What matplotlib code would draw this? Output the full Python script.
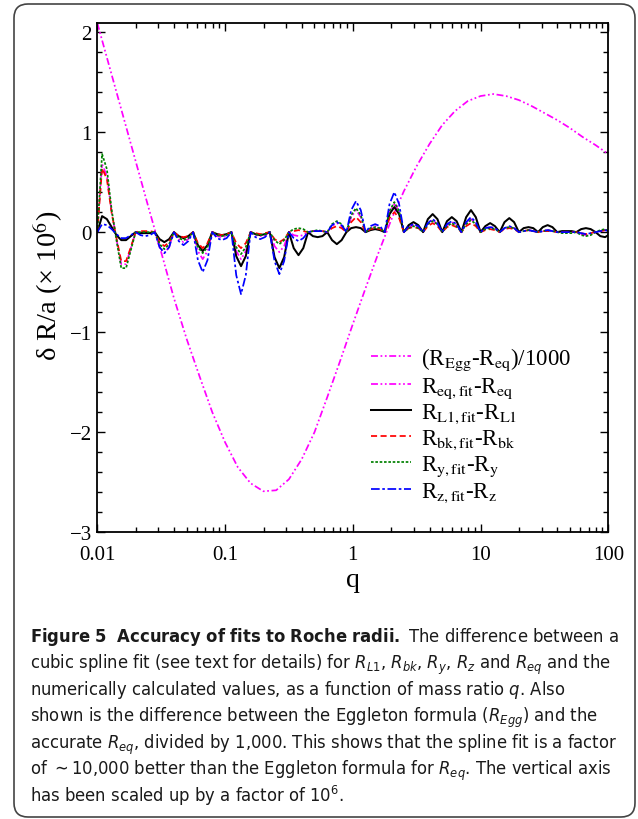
import numpy as np
import matplotlib
matplotlib.use('Agg')
import matplotlib.pyplot as plt
from matplotlib import font_manager
from matplotlib.patches import FancyBboxPatch
from matplotlib.transforms import IdentityTransform
from matplotlib.ticker import FixedLocator, MultipleLocator, NullFormatter

# ---- data ----
# (R_Egg - R_eq)/1000, sampled every 0.1 dex in q
log_q_egg = np.linspace(-2, 2, 41)
egg = [2.09, 1.63, 1.17, 0.71, 0.25, -0.20, -0.66, -1.07, -1.44, -1.80,
       -2.10, -2.35, -2.51, -2.59, -2.58, -2.47, -2.27, -2.00, -1.65, -1.29,
       -0.92, -0.56, -0.21, 0.12, 0.41, 0.66, 0.88, 1.07, 1.21, 1.31,
       1.36, 1.38, 1.36, 1.32, 1.26, 1.19, 1.12, 1.04, 0.95, 0.87, 0.78]

# fit residuals, sampled at quarter steps of the 0.15 dex knot spacing
log_q_fit = np.append(np.arange(107) * 0.0375 - 2, 2.0)

eq_fit = [0, 0.68, 0.56, 0.20, -0.07, -0.32, -0.32, -0.16,
          0, -0.01, -0.01, -0.01,
          0, -0.15, -0.21, -0.15,
          0, -0.07, -0.10, -0.07,
          0, -0.19, -0.27, -0.19,
          0, -0.04, -0.05, -0.04,
          0, -0.19, -0.27, -0.19,
          0, -0.03, -0.04, -0.03,
          0, -0.14, -0.20, -0.14,
          0, -0.03, -0.04, -0.03,
          0, 0.01, 0.01, 0.01,
          0, 0.06, 0.09, 0.06,
          0, 0.15, 0.22, 0.15,
          0, 0.04, 0.06, 0.04,
          0, 0.20, 0.28, 0.20,
          0, 0.05, 0.07, 0.05,
          0, 0.08, 0.12, 0.08,
          0, 0.07, 0.10, 0.07,
          0, 0.09, 0.13, 0.09,
          0, 0.04, 0.05, 0.04,
          0, 0.04, 0.05, 0.04,
          0, 0.01, 0.02, 0.01,
          0, 0.01, 0.02, 0.01,
          0, 0.00, 0.00, 0.00,
          0, -0.02, -0.03, -0.02,
          0, 0.01, 0.02, 0.01]

l1_fit = [0, 0.16, 0.13, 0.05, -0.03, -0.08, -0.08, -0.04,
          0, -0.01, -0.01, -0.01,
          0, -0.07, -0.10, -0.07,
          0, -0.04, -0.06, -0.04,
          0, -0.13, -0.19, -0.13,
          0, -0.02, -0.03, -0.02,
          0, -0.24, -0.34, -0.24,
          0, -0.02, -0.03, -0.02,
          0, -0.25, -0.36, -0.25,
          0, -0.16, -0.23, -0.16,
          0, -0.04, -0.05, -0.04,
          0, -0.08, -0.12, -0.08,
          0, 0.04, 0.05, 0.04,
          0, 0.02, 0.03, 0.02,
          0, 0.18, 0.25, 0.18,
          0, 0.07, 0.10, 0.07,
          0, 0.13, 0.18, 0.13,
          0, 0.11, 0.15, 0.11,
          0, 0.15, 0.22, 0.15,
          0, 0.06, 0.09, 0.06,
          0, 0.10, 0.14, 0.10,
          0, 0.04, 0.05, 0.04,
          0, 0.05, 0.07, 0.05,
          0, 0.01, 0.01, 0.01,
          0, 0.03, 0.04, 0.03,
          0, -0.04, -0.05, -0.03]

bk_fit = [0, 0.64, 0.53, 0.19, -0.06, -0.29, -0.29, -0.15,
          0, 0.01, 0.01, 0.01,
          0, -0.10, -0.14, -0.10,
          0, -0.04, -0.05, -0.04,
          0, -0.11, -0.16, -0.11,
          0, -0.02, -0.03, -0.02,
          0, -0.11, -0.16, -0.11,
          0, -0.01, -0.02, -0.01,
          0, -0.07, -0.10, -0.07,
          0, 0.01, 0.02, 0.01,
          0, 0.01, 0.01, 0.01,
          0, 0.04, 0.06, 0.04,
          0, 0.10, 0.15, 0.10,
          0, 0.03, 0.04, 0.03,
          0, 0.14, 0.20, 0.14,
          0, 0.04, 0.05, 0.04,
          0, 0.06, 0.09, 0.06,
          0, 0.05, 0.07, 0.05,
          0, 0.06, 0.09, 0.06,
          0, 0.02, 0.03, 0.02,
          0, 0.03, 0.04, 0.03,
          0, 0.01, 0.02, 0.01,
          0, 0.01, 0.01, 0.01,
          0, 0.00, 0.00, 0.00,
          0, -0.01, -0.02, -0.01,
          0, 0.01, 0.02, 0.01]

y_fit = [0, 0.78, 0.63, 0.22, -0.08, -0.36, -0.36, -0.18,
         0, 0.00, 0.00, 0.00,
         0, -0.12, -0.17, -0.12,
         0, -0.06, -0.08, -0.06,
         0, -0.15, -0.21, -0.15,
         0, -0.03, -0.04, -0.03,
         0, -0.15, -0.22, -0.15,
         0, -0.02, -0.03, -0.02,
         0, -0.08, -0.12, -0.08,
         0, 0.03, 0.04, 0.03,
         0, 0.01, 0.02, 0.01,
         0, 0.08, 0.11, 0.08,
         0, 0.17, 0.24, 0.17,
         0, 0.04, 0.05, 0.04,
         0, 0.21, 0.30, 0.21,
         0, 0.04, 0.06, 0.04,
         0, 0.08, 0.11, 0.08,
         0, 0.06, 0.09, 0.06,
         0, 0.08, 0.12, 0.08,
         0, 0.03, 0.04, 0.03,
         0, 0.04, 0.05, 0.04,
         0, 0.01, 0.02, 0.01,
         0, 0.01, 0.02, 0.01,
         0, -0.01, -0.01, -0.01,
         0, -0.03, -0.04, -0.03,
         0, 0.02, 0.03, 0.01]

z_fit = [0, 0.08, 0.07, 0.03, -0.02, -0.06, -0.06, -0.03,
         0, -0.03, -0.04, -0.03,
         0, -0.15, -0.21, -0.15,
         0, -0.09, -0.13, -0.09,
         0, -0.28, -0.40, -0.28,
         0, -0.06, -0.08, -0.06,
         0, -0.43, -0.62, -0.43,
         0, -0.05, -0.07, -0.05,
         0, -0.29, -0.42, -0.29,
         0, -0.06, -0.09, -0.06,
         0, 0.01, 0.01, 0.01,
         0, 0.07, 0.10, 0.07,
         0, 0.22, 0.31, 0.22,
         0, 0.06, 0.08, 0.06,
         0, 0.28, 0.40, 0.28,
         0, 0.06, 0.08, 0.06,
         0, 0.09, 0.13, 0.09,
         0, 0.08, 0.11, 0.08,
         0, 0.10, 0.15, 0.10,
         0, 0.04, 0.05, 0.04,
         0, 0.04, 0.06, 0.04,
         0, 0.01, 0.02, 0.01,
         0, 0.01, 0.02, 0.01,
         0, 0.00, 0.00, 0.00,
         0, -0.01, -0.02, -0.01,
         0, 0.01, 0.02, 0.01]

labels = [r'(R$_{\rm Egg}$-R$_{\rm eq}$)/1000',
          r'R$_{\rm eq,fit}$-R$_{\rm eq}$',
          r'R$_{\rm L1,fit}$-R$_{\rm L1}$',
          r'R$_{\rm bk,fit}$-R$_{\rm bk}$',
          r'R$_{\rm y,fit}$-R$_{\rm y}$',
          r'R$_{\rm z,fit}$-R$_{\rm z}$']

x_ticks = [0.01, 0.1, 1, 10, 100]
x_ticklabels = ['0.01', '0.1', '1', '10', '100']
y_ticks = [-3, -2, -1, 0, 1, 2]

caption = [
    r'$\mathbf{Figure\ 5\ \ Accuracy\ of\ fits\ to\ Roche\ radii.}$ The difference between a',
    r'cubic spline fit (see text for details) for $R_{L1}$, $R_{bk}$, $R_y$, $R_z$ and $R_{eq}$ and the',
    r'numerically calculated values, as a function of mass ratio $q$. Also',
    r'shown is the difference between the Eggleton formula ($R_{Egg}$) and the',
    r'accurate $R_{eq}$, divided by 1,000. This shows that the spline fit is a factor',
    r'of $\sim$10,000 better than the Eggleton formula for $R_{eq}$. The vertical axis',
    r'has been scaled up by a factor of 10$^6$.',
]

# ---- fonts: a narrow sans for the caption if one is installed ----
ttf = font_manager.fontManager.ttflist
narrow = [f for f in ttf if f.name == 'DejaVu Sans' and str(f.stretch) not in ('normal', '500')]
if narrow:
    cap_font, cap_stretch = 'DejaVu Sans', 'condensed'
else:
    cap_font, cap_stretch = 'Liberation Sans', 'normal'
spec = cap_font + (':stretch=condensed' if cap_stretch == 'condensed' else '')

plt.rcParams['font.family'] = ['Liberation Serif', 'DejaVu Serif']
plt.rcParams['mathtext.fontset'] = 'stix'
plt.rcParams['mathtext.rm'] = spec
plt.rcParams['mathtext.it'] = spec + ':italic'
plt.rcParams['mathtext.bf'] = spec + ':bold'

W, H = 638, 820
fig = plt.figure(figsize=(W / 100, H / 100), dpi=100)

# rounded frame around figure + caption
frame = FancyBboxPatch((14, 2), 621, 813, boxstyle='round,pad=0,rounding_size=14',
                       transform=IdentityTransform(), facecolor='none',
                       edgecolor='#444444', linewidth=1.2)
fig.add_artist(frame)

ax = fig.add_axes([97.3 / W, 1 - 533.3 / H, 511 / W, 509.3 / H])

q_egg = 10 ** log_q_egg
q_fit = 10 ** log_q_fit
ax.plot(q_egg, egg, color='#ff00ff', lw=1.25, ls=(0, (4, 1.5, 1, 1.5, 1, 1.5)), label=labels[0])
ax.plot(q_fit, eq_fit, color='#ff00ff', lw=1.25, ls=(0, (4, 1.5, 1, 1.5, 1, 1.5)), label=labels[1])
ax.plot(q_fit, l1_fit, color='black', lw=1.45, ls='-', label=labels[2])
ax.plot(q_fit, bk_fit, color='#ff0000', lw=1.25, ls=(0, (3.5, 2)), label=labels[3])
ax.plot(q_fit, y_fit, color='#008000', lw=1.25, ls=(0, (1.5, 1)), label=labels[4])
ax.plot(q_fit, z_fit, color='#0000ff', lw=1.25, ls=(0, (5, 1.5, 1.5, 1.5)), label=labels[5])

ax.set_xscale('log')
ax.set_xlim(0.01, 100)
ax.set_ylim(-3, 2.09)
ax.xaxis.set_major_locator(FixedLocator(x_ticks))
ax.set_xticklabels(x_ticklabels)
minor = [m * 10.0 ** e for e in range(-2, 2) for m in range(2, 10)]
ax.xaxis.set_minor_locator(FixedLocator(minor))
ax.xaxis.set_minor_formatter(NullFormatter())
ax.set_yticks(y_ticks)
ax.set_yticklabels(['\u22123', '\u22122', '\u22121', '0', '1', '2'])
ax.yaxis.set_minor_locator(MultipleLocator(0.2))

ax.tick_params(which='both', direction='in', top=True, right=True, width=1.0)
ax.tick_params(which='major', length=6, labelsize=15)
ax.tick_params(axis='y', which='major', pad=4)
ax.tick_params(axis='x', which='major', pad=9)
ax.tick_params(which='minor', length=3.3)
for s in ax.spines.values():
    s.set_linewidth(1.3)

ax.set_xlabel('q', fontsize=20, labelpad=2)
ax.set_ylabel('\u03b4 R/a (\u00d7 10$^6$)', fontsize=20.5, labelpad=3, y=0.486)

ax.legend(loc='upper left', bbox_to_anchor=(371 / W, 1 - 347 / H), bbox_transform=fig.transFigure,
          frameon=False, fontsize=16.5, handlelength=1.75, handletextpad=0.45,
          labelspacing=0.11, borderpad=0, borderaxespad=0)

# caption, sized so the second line spans the box width like the original
texts = []
for i, line in enumerate(caption):
    t = fig.text(30 / W, 1 - (642 + 26.7 * i) / H, line, fontsize=13, family=cap_font,
                 fontstretch=cap_stretch, math_fontfamily='custom',
                 va='baseline', ha='left', color='#1a1a1a')
    texts.append(t)
fig.canvas.draw()
w2 = texts[1].get_window_extent().width
size = min(14, 13 * 578 / w2)
for t in texts:
    t.set_fontsize(size)

fig.savefig('out.png', dpi=100)
